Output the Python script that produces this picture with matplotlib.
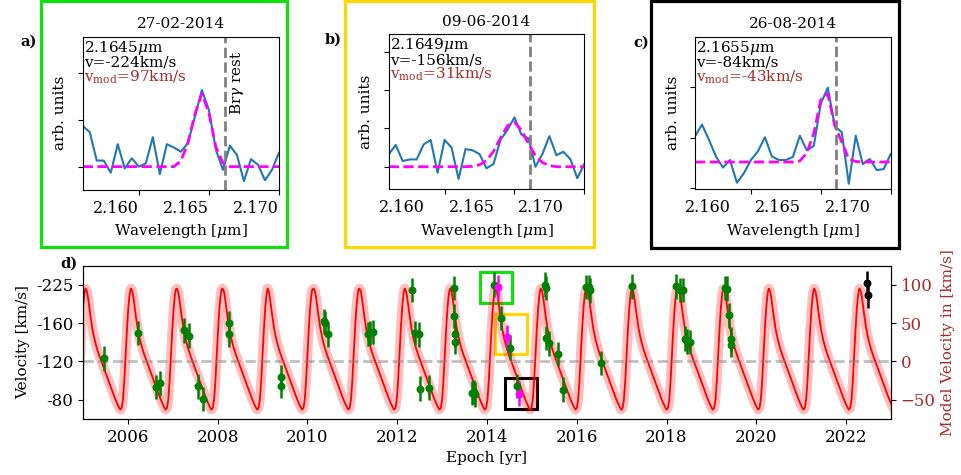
import numpy as np
import matplotlib.pyplot as plt
from matplotlib.patches import Rectangle
from matplotlib.transforms import ScaledTranslation

plt.rcParams['font.family'] = 'serif'
plt.rcParams['font.serif'] = ['DejaVu Serif']
plt.rcParams['mathtext.fontset'] = 'dejavuserif'
plt.rcParams['font.size'] = 11

# wavelength grid of the three spectra [micron]
wave = [2.1560, 2.1565, 2.1570, 2.1575, 2.1580, 2.1585, 2.1590, 2.1595, 2.1600, 2.1605,
        2.1610, 2.1615, 2.1620, 2.1625, 2.1630, 2.1635, 2.1640, 2.1645, 2.1650, 2.1655,
        2.1660, 2.1665, 2.1670, 2.1675, 2.1680, 2.1685, 2.1690, 2.1695, 2.1700]
brg_rest = 2.16612

spec_a = [0.87, 0.74, 0.13, 0.13, -0.13, 0.48, -0.04, 0.18, 0.00, 0.07,
          0.63, -0.16, 0.48, 0.41, 0.32, 0.50, 1.07, 1.64, 1.21, 0.36,
          -0.07, 0.45, 0.25, -0.31, 0.16, 0.04, -0.29, -0.07, 0.30]
fit_a = [0, 0, 0, 0, 0, 0, 0, 0, 0, 0,
         0, 0, 0, 0, 0.12, 0.50, 1.12, 1.56, 1.15, 0.42,
         0.08, 0, 0, 0, 0, 0, 0, 0, 0]
spec_b = [0.32, 0.57, 0.15, 0.19, 0.19, 0.58, 0.70, -0.16, 0.70, 0.50,
          -0.32, 0.46, 0.43, 0.33, -0.04, 0.07, 0.70, 0.96, 1.29, 0.84,
          0.74, 0.00, 0.33, 0.80, 0.30, 0.39, 0.20, -0.30, 0.07]
fit_b = [0, 0, 0, 0, 0, 0, 0, 0, 0, 0,
         0, 0, 0.01, 0.05, 0.16, 0.40, 0.75, 1.07, 1.16, 0.96,
         0.60, 0.29, 0.11, 0.03, 0, 0, 0, 0, 0]
spec_c = [1.03, 1.26, 0.96, 0.63, 0.41, 0.56, 0.11, 0.30, 0.56, 0.73,
          1.01, 0.63, 0.56, 0.56, 0.62, 1.04, 0.75, 0.84, 1.68, 1.99,
          1.23, 1.11, 0.09, 1.04, 0.48, 0.58, 0.36, 0.38, 0.68]
fit_c = [0.52, 0.52, 0.52, 0.52, 0.52, 0.52, 0.52, 0.52, 0.52, 0.52,
         0.52, 0.52, 0.52, 0.52, 0.52, 0.54, 0.70, 1.09, 1.75, 1.87,
         1.24, 0.92, 0.58, 0.53, 0.52, 0.52, 0.52, 0.52, 0.52]

dates = ['27-02-2014', '09-06-2014', '26-08-2014']
line_centres = ['2.1645', '2.1649', '2.1655']
v_obs = ['-224', '-156', '-84']
v_mod = ['97', '31', '-43']

# model velocity curve: one cycle, repeated at each peak epoch
model_peaks = [2004.05, 2005.06, 2006.07, 2007.09, 2008.11, 2009.11, 2010.14, 2011.16,
               2012.17, 2013.18, 2014.19, 2015.20, 2016.22, 2017.23, 2018.26, 2019.27,
               2020.28, 2021.29, 2022.30]
cycle_dt = [0, 0.03, 0.06, 0.10, 0.15, 0.20, 0.25, 0.30, 0.35, 0.40, 0.45, 0.50, 0.55,
            0.60, 0.65, 0.70, 0.74, 0.77, 0.80, 0.83, 0.86, 0.89, 0.92, 0.95, 0.98, 1.00]
cycle_v = [95, 91, 80, 62, 42, 28, 17, 8, 0, -8, -16, -24, -32,
           -40, -48, -55, -60, -63, -61, -50, -25, 8, 42, 70, 88, 94]

# observed epochs (plotted on the model-velocity scale)
obs_t = [2005.47, 2006.22, 2006.63, 2006.72, 2007.25, 2007.36, 2007.56, 2007.68,
         2008.26, 2008.26, 2009.40, 2009.40, 2010.37, 2010.40, 2010.46, 2011.36,
         2011.40, 2011.45, 2012.34, 2012.39, 2012.49, 2012.51, 2012.71, 2013.27,
         2013.27, 2013.28, 2013.28, 2013.67, 2013.71, 2013.74, 2014.15, 2014.31,
         2014.52, 2014.66, 2015.30, 2015.31, 2015.32, 2015.38, 2015.59, 2015.69,
         2016.21, 2016.28, 2016.30, 2016.53, 2017.22, 2018.22, 2018.29, 2018.36,
         2018.42, 2018.46, 2018.53, 2019.30, 2019.34, 2019.39, 2019.44, 2019.44]
obs_v = [3.9, 36.9, -33.5, -28.7, 40.4, 33.4, -32.6, -49.2,
         50.0, 35.2, -20.5, -31.8, 52.2, 50.0, 35.2, 35.6,
         37.0, 38.2, 93.0, 36.9, 35.2, -35.7, -34.4, 96.0,
         59.0, 35.2, 25.2, -41.3, -40.0, -43.0, 100.0, 56.5,
         17.8, -32.2, 100.0, 95.6, 30.4, 23.5, 9.9, -37.0,
         97.0, 97.0, 92.6, -2.2, 97.8, 97.8, 93.0, 93.0,
         29.5, 26.0, 25.2, 95.6, 95.0, 60.0, 28.7, 21.7]
spec_t = [2014.24, 2014.45, 2014.72]
spec_v = [97.0, 31.7, -42.2]
new_t = [2022.46, 2022.49]
new_v = [102.5, 86.0]
v_err = 16

left_ticks = [100, 50, 0, -50]
left_labels = ['-225', '-160', '-120', '-80']

frame_cols = ['#10e010', 'gold', 'black']

fig = plt.figure(figsize=(9.61, 4.75), dpi=100)
W, H = 961.0, 475.0

def px_axes(x0, y0, x1, y1):
    return fig.add_axes([x0 / W, 1 - y1 / H, (x1 - x0) / W, (y1 - y0) / H])

top_axes = [px_axes(82.7, 36.7, 279.0, 190.0),
            px_axes(388.7, 34.3, 584.3, 189.3),
            px_axes(695.0, 36.7, 890.7, 189.3)]
spectra = [(spec_a, fit_a), (spec_b, fit_b), (spec_c, fit_c)]
ylims = [(-0.5, 2.78), (-0.59, 3.46), (-0.02, 3.0)]
yticks = [[0, 1, 2], [0, 1, 2, 3], [0, 1, 2]]
label_shift = [0, -20, -20]   # extra leftward shift of the x tick labels [px]
letters = ['a)', 'b)', 'c)']
letter_xy = [(29, 42), (333, 40), (641, 43)]

for i, ax in enumerate(top_axes):
    s, f = spectra[i]
    ax.plot(wave, s, color='tab:blue', lw=1.5)
    ax.plot(wave, f, color='magenta', ls='--', lw=2)
    ax.axvline(brg_rest, color='grey', ls='--', lw=2)
    ax.set_xlim(2.1560, 2.1700)
    ax.set_ylim(*ylims[i])
    ax.set_yticks(yticks[i])
    ax.set_yticklabels([])
    ax.set_xticks([2.160, 2.165, 2.170])
    ax.set_xticklabels(['2.160', '2.165', '2.170'], ha='right', fontsize=11.5)
    shift = ScaledTranslation(label_shift[i] / 100, 0, fig.dpi_scale_trans)
    for lbl in ax.get_xticklabels():
        lbl.set_transform(lbl.get_transform() + shift)
    ax.set_xlabel(r'Wavelength [$\mu$m]')
    ax.set_ylabel('arb. units')
    ax.set_title(dates[i], fontsize=11)
    ax.annotate(line_centres[i] + r'$\mu$m', (0, 1), xycoords='axes fraction',
                xytext=(1, -15), textcoords='offset pixels', va='baseline')
    ax.annotate('v=' + v_obs[i] + 'km/s', (0, 1), xycoords='axes fraction',
                xytext=(1, -30), textcoords='offset pixels', va='baseline')
    ax.annotate(r'v$_{\mathrm{mod}}$=' + v_mod[i] + 'km/s', (0, 1), xycoords='axes fraction',
                xytext=(1, -44.5), textcoords='offset pixels', va='baseline', color='brown')
    fig.text(letter_xy[i][0] / W, 1 - letter_xy[i][1] / H, letters[i],
             fontweight='bold', fontsize=10.5, ha='center', va='center')

top_axes[0].text(2.16699, 0.70, r'Br$\gamma$ rest', rotation=90, ha='center', va='center',
                 transform=top_axes[0].get_xaxis_transform())

# coloured frames around the three spectra
frames = [(41, 1.3, 286.7, 247), (345, 1.3, 594, 246.7), (651, 1.3, 899, 247.7)]
for (x0, y0, x1, y1), c in zip(frames, frame_cols):
    fig.patches.append(Rectangle((x0 / W, 1 - y1 / H), (x1 - x0) / W, (y1 - y0) / H,
                                 transform=fig.transFigure, fill=False, edgecolor=c, lw=2.3))

# bottom panel
ax = px_axes(83, 265.7, 891, 419)
model_t = np.concatenate([p + np.array(cycle_dt) for p in model_peaks])
model_v = np.tile(cycle_v, len(model_peaks))
ax.plot(model_t, model_v, color='red', alpha=0.25, lw=7, solid_capstyle='round')
ax.plot(model_t, model_v, color='red', lw=1.3)
ax.axhline(0, color='grey', alpha=0.5, ls='--', lw=2)
ax.errorbar(obs_t, obs_v, yerr=v_err, fmt='o', color='green', ms=4.7, elinewidth=1.8)
ax.errorbar(spec_t, spec_v, yerr=v_err, fmt='o', color='magenta', ms=4.7, elinewidth=1.8)
ax.errorbar(new_t, new_v, yerr=v_err, fmt='o', color='black', ms=4.7, elinewidth=1.8)

boxes = [(2014.20, 96.7, 0.72, 40), (2014.53, 35.9, 0.72, 53), (2014.75, -41.8, 0.71, 41)]
for (cx, cy, bw, bh), c in zip(boxes, frame_cols):
    ax.add_patch(Rectangle((cx - bw / 2, cy - bh / 2), bw, bh, fill=False, edgecolor=c, lw=2.2))

ax.set_xlim(2005, 2023)
ax.set_ylim(-75.2, 124.8)
ax.set_xticks(range(2006, 2023, 2))
ax.set_yticks(left_ticks)
ax.set_yticklabels(left_labels)
ax.tick_params(labelsize=12)
ax.set_xlabel('Epoch [yr]')
ax.set_ylabel('Velocity [km/s]')

ax2 = ax.twinx()
ax2.set_ylim(-75.2, 124.8)
ax2.set_yticks(left_ticks)
ax2.tick_params(axis='y', labelcolor='brown', labelsize=12)
ax2.set_ylabel('Model Velocity in [km/s]', color='brown')

fig.text(69 / W, 1 - 263.3 / H, 'd)', fontweight='bold', fontsize=10.5, ha='center', va='center')

fig.savefig('out.png', dpi=100)
